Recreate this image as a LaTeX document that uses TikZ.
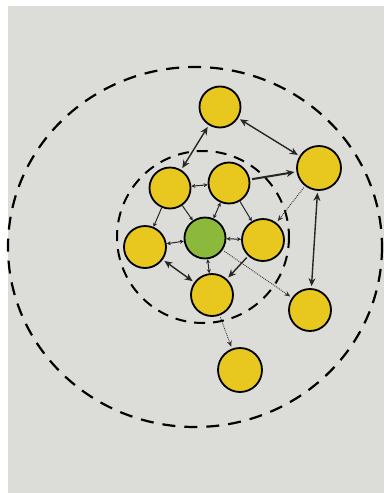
\documentclass[tikz,border=0pt]{standalone}
\usetikzlibrary{arrows.meta}
\begin{document}
\begin{tikzpicture}[x=1pt,y=-1pt,
  yel/.style={circle,draw=black,line width=1.8pt,fill=ylw,minimum size=#1pt,inner sep=0pt},
  yel/.default=41,
  grn/.style={circle,draw=black,line width=1.8pt,fill=grnc,minimum size=41pt,inner sep=0pt},
  ring/.style={draw=black,line width=2.2pt,dash pattern=on 13pt off 9pt},
  dbl/.style={{Stealth[length=8pt,width=7pt]}-{Stealth[length=8pt,width=7pt]},line width=1.4pt,black!85,shorten <=2pt,shorten >=2pt},
  sgl/.style={-{Stealth[length=8pt,width=7pt]},line width=1.4pt,black!85,shorten <=2pt,shorten >=2pt},
  dotarr/.style={-{Stealth[length=6pt,width=5pt]},line width=0.9pt,densely dotted,black!80,shorten <=2pt,shorten >=2pt},
  tiny/.style={{Stealth[length=4pt,width=4pt]}-{Stealth[length=4pt,width=4pt]},line width=1pt,black!85},
  tinys/.style={-{Stealth[length=4pt,width=4pt]},line width=1pt,black!85},
]
\definecolor{ylw}{RGB}{232,200,30}
\definecolor{grnc}{RGB}{140,184,60}
\definecolor{bg}{RGB}{220,220,217}
\fill[white] (0,0) rectangle (384,493);
\fill[bg] (8,6) rectangle (384,493);
\useasboundingbox (0,0) rectangle (384,493);

% rings
\draw[ring] (195,247) ellipse [x radius=187, y radius=180];
\draw[ring,line width=2pt,dash pattern=on 11pt off 8pt] (203,237) circle [radius=86];

% nodes
\node[yel] (top) at (220,107) {};
\node[yel=44] (rt) at (319,168) {};
\node[yel] (ul) at (170,188) {};
\node[yel] (ur) at (229,183) {};
\node[yel=42] (lf) at (145,247) {};
\node[grn] (g) at (205,238) {};
\node[yel=42] (rm) at (263,240) {};
\node[yel=42] (lc) at (212,295) {};
\node[yel=42] (rl) at (310,310) {};
\node[yel=44] (bt) at (240,370) {};

% connectors
\draw[dbl] (top) -- (rt);
\draw[dbl] (top) -- (ul);
\draw[sgl,line width=2pt] (ur) -- (rt);
\draw[dotarr] (rt) -- (rm);
\draw[dbl] (rt) -- (rl);
\draw[dotarr] (g) -- (rl);
\draw[sgl] (rm) -- (lc);
\draw[dotarr] (lc) -- (bt);
\draw[dbl] (lf) -- (lc);

\draw[tiny] (ul) -- (ur);
\draw[tinys] (ul) -- (lf);
\draw[tinys] (ul) -- (g);
\draw[tiny] (ur) -- (g);
\draw[tinys] (ur) -- (rm);
\draw[tiny] (g) -- (lf);
\draw[tiny] (g) -- (rm);
\draw[tiny] (g) -- (lc);
\end{tikzpicture}
\end{document}
